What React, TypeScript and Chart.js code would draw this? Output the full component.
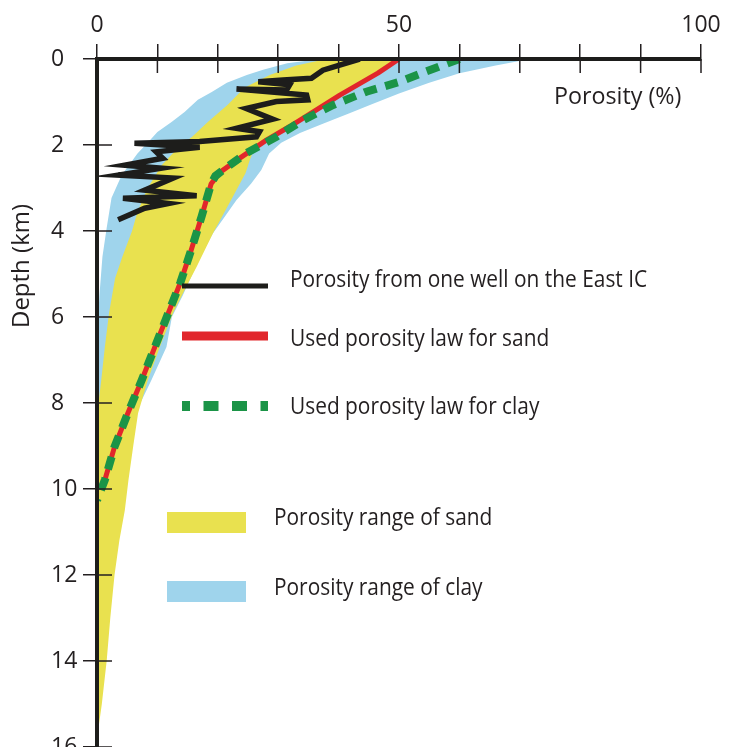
import React, { useEffect, useRef } from 'react';
import { Chart, registerables } from 'chart.js';

Chart.register(...registerables);

// ---------- data (porosity in %, depth in km) ----------
const xTickLabels = ['0', '50', '100'];
const xTitle = 'Porosity (%)';
const yTitle = 'Depth (km)';

// Porosity measured in one well (East IC)
const wellPorosity = [43.5, 37.4, 35.5, 30.8, 26.7, 31.9, 31.4, 23.1, 34.7, 34.9, 29.7, 24.7, 29.1, 23.1, 26.9, 26.4, 17.0, 6.2, 17.0, 9.8, 10.9, 4.6, 10.7, 3.5, 12.6, 7.9, 16.5, 4.3, 11.8, 7.9, 3.5];
const wellDepth = [0.0, 0.26, 0.45, 0.49, 0.53, 0.6, 0.72, 0.7, 0.84, 0.95, 0.99, 1.15, 1.4, 1.61, 1.69, 1.81, 1.92, 1.96, 2.05, 2.16, 2.31, 2.47, 2.54, 2.7, 2.77, 3.05, 3.18, 3.24, 3.36, 3.47, 3.74];

// Used porosity law for sand
const sandLawPorosity = [50, 46.5, 40.2, 35.8, 31.9, 28.1, 23.7, 20.4, 18.9, 17.3, 15.6, 13.8, 11.8, 9.6, 7.4, 5.1, 2.9, 1.3, 0.4];
const sandLawDepth = [0, 0.33, 0.84, 1.23, 1.57, 1.88, 2.3, 2.63, 2.9, 3.67, 4.44, 5.2, 5.91, 6.69, 7.47, 8.24, 9.02, 9.79, 10.0];

// Used porosity law for clay
const clayLawPorosity = [60, 54.5, 50.1, 44.6, 39.1, 34.0, 29.7, 24.7, 20.9, 19.6, 18.9, 17.3, 15.6, 13.8, 11.8, 9.6, 7.4, 5.1, 2.9, 1.3, 0];
const clayLawDepth = [0, 0.29, 0.53, 0.76, 1.07, 1.43, 1.81, 2.19, 2.58, 2.72, 2.9, 3.67, 4.44, 5.2, 5.91, 6.69, 7.47, 8.24, 9.02, 9.79, 10.26];

// Porosity range of sand (left and right boundaries, top to bottom)
const sandMinPorosity = [38, 33, 28.6, 24.4, 21.6, 18.3, 15.8, 13.4, 10.7, 8.4, 6.7, 5.8, 4.2, 3.0, 2.0, 1.3, 0.7, 0, 0];
const sandMinDepth = [0, 0.15, 0.37, 0.67, 1.07, 1.47, 1.8, 2.07, 2.47, 3.0, 3.56, 4.0, 4.6, 5.1, 5.9, 6.7, 7.47, 8.3, 15.8];
const sandMaxPorosity = [50, 46.5, 40.2, 35.8, 31.9, 28.1, 26.0, 25.3, 24.6, 22.2, 19.2, 16.5, 14.5, 12.6, 10.4, 8.4, 6.8, 6.0, 5.2, 4.6, 3.7, 2.9, 2.2, 1.6, 0.8, 0];
const sandMaxDepth = [0, 0.33, 0.84, 1.23, 1.57, 1.88, 2.1, 2.35, 2.65, 3.28, 4.05, 4.83, 5.37, 5.9, 6.7, 7.47, 8.24, 9.0, 9.8, 10.5, 11.2, 12.0, 13.0, 14.0, 15.0, 15.8];

// Porosity range of clay (left and right boundaries, top to bottom)
const clayMinPorosity = [37, 31.5, 27.5, 24.8, 21.5, 19, 16.7, 14.5, 12.4, 10, 8.5, 6.7, 4.1, 2.4, 1.6, 0.9, 0.4, 0, 0];
const clayMinDepth = [0, 0.1, 0.25, 0.37, 0.55, 0.77, 0.95, 1.23, 1.46, 1.7, 1.93, 2.2, 2.7, 3.23, 3.93, 4.6, 5.5, 6.5, 10.6];
const clayMaxPorosity = [71.7, 66, 60, 55, 50, 45.5, 41.8, 37.5, 33.6, 30.5, 28.5, 27.2, 25.5, 23.1, 21, 19.2, 17.5, 15.8, 14.2, 12.4, 11.5, 9, 6.5, 4, 2, 0];
const clayMaxDepth = [0, 0.15, 0.33, 0.55, 0.8, 1.05, 1.26, 1.5, 1.72, 1.95, 2.2, 2.58, 2.9, 3.28, 3.7, 4.05, 4.5, 5.0, 5.5, 6.0, 6.7, 7.47, 8.2, 9.0, 9.8, 10.6];

const legendLabels = [
  'Porosity from one well on the East IC',
  'Used porosity law for sand',
  'Used porosity law for clay',
  'Porosity range of sand',
  'Porosity range of clay',
];

// ---------- styles ----------
const INK = '#231f20';
const BLACK = '#1d1d1b';
const RED = '#e1262b';
const GREEN = '#1b9447';
const YELLOW = '#e9e14f';
const BLUE = '#9fd4ec';
const FONT = "'Open Sans', 'Noto Sans', sans-serif";

const pts = (xs: number[], ys: number[]) => xs.map((x, i) => ({ x, y: ys[i] }));
const polygon = (lx: number[], ly: number[], rx: number[], ry: number[]) => [
  ...pts(lx, ly),
  ...pts(rx, ry).reverse(),
];

const overlayPlugin = {
  id: 'overlay',
  afterDraw(chart: any) {
    const { ctx, chartArea, scales } = chart;
    const xs = scales.x;
    const ys = scales.y;
    ctx.save();
    // inner halves of the crossing tick marks
    ctx.strokeStyle = INK;
    ctx.lineWidth = 1.5;
    ctx.setLineDash([]);
    for (const t of xs.ticks) {
      if (t.value === 0) continue;
      const p = xs.getPixelForValue(t.value);
      ctx.beginPath();
      ctx.moveTo(p, chartArea.top);
      ctx.lineTo(p, chartArea.top + 14);
      ctx.stroke();
    }
    for (const t of ys.ticks) {
      if (t.value === 0) continue;
      const p = ys.getPixelForValue(t.value);
      ctx.beginPath();
      ctx.moveTo(chartArea.left, p);
      ctx.lineTo(chartArea.left + 15, p);
      ctx.stroke();
    }

    const squeezeText = (text: string, x: number, y: number, k: number) => {
      const w = ctx.measureText(text).width;
      ctx.fillText(text, x, y, w * k);
    };

    // axis titles
    ctx.fillStyle = INK;
    ctx.font = `24px ${FONT}`;
    ctx.textBaseline = 'alphabetic';
    ctx.textAlign = 'left';
    squeezeText(xTitle, 554, 104, 0.97);
    ctx.save();
    ctx.translate(29, 266);
    ctx.rotate(-Math.PI / 2);
    ctx.textAlign = 'center';
    ctx.fillText(yTitle, 0, 0);
    ctx.restore();

    // legend symbols
    const seg = (y: number, color: string, width: number, dash: number[], offset: number) => {
      ctx.beginPath();
      ctx.setLineDash(dash);
      ctx.lineDashOffset = offset;
      ctx.strokeStyle = color;
      ctx.lineWidth = width;
      ctx.lineCap = 'butt';
      ctx.moveTo(182, y);
      ctx.lineTo(268, y);
      ctx.stroke();
    };
    seg(286, BLACK, 5, [], 0);
    seg(336, RED, 9, [], 0);
    seg(406, GREEN, 10, [15, 13.5], 7);
    ctx.setLineDash([]);
    ctx.fillStyle = YELLOW;
    ctx.fillRect(167, 512, 79, 21);
    ctx.fillStyle = BLUE;
    ctx.fillRect(167, 581, 79, 21);

    // legend texts
    ctx.fillStyle = INK;
    ctx.font = `24px ${FONT}`;
    ctx.textAlign = 'left';
    const k = 0.87;
    squeezeText(legendLabels[0], 290, 287, k);
    squeezeText(legendLabels[1], 290, 346, k);
    squeezeText(legendLabels[2], 290, 414, k);
    squeezeText(legendLabels[3], 274, 525, k);
    squeezeText(legendLabels[4], 274, 595, k);
    ctx.restore();
  },
};

export default function App() {
  const ref = useRef<HTMLCanvasElement>(null);

  useEffect(() => {
    const canvas = ref.current;
    if (!canvas) return;
    const tickFont = { family: FONT, size: 23 };
    const chart = new Chart(canvas, {
      type: 'scatter',
      data: {
        datasets: [
          {
            label: legendLabels[0],
            data: pts(wellPorosity, wellDepth),
            showLine: true,
            borderColor: BLACK,
            borderWidth: 5.5,
            borderJoinStyle: 'miter',
            pointRadius: 0,
            fill: false,
          },
          {
            label: legendLabels[2],
            data: pts(clayLawPorosity, clayLawDepth),
            showLine: true,
            borderColor: GREEN,
            borderWidth: 8,
            borderDash: [13, 9],
            borderCapStyle: 'butt',
            pointRadius: 0,
            fill: false,
          },
          {
            label: legendLabels[1],
            data: pts(sandLawPorosity, sandLawDepth),
            showLine: true,
            borderColor: RED,
            borderWidth: 5,
            borderJoinStyle: 'round',
            pointRadius: 0,
            fill: false,
          },
          {
            label: legendLabels[3],
            data: polygon(sandMinPorosity, sandMinDepth, sandMaxPorosity, sandMaxDepth),
            showLine: true,
            borderWidth: 0,
            borderColor: 'rgba(0,0,0,0)',
            backgroundColor: YELLOW,
            pointRadius: 0,
            fill: 'shape',
          },
          {
            label: legendLabels[4],
            data: polygon(clayMinPorosity, clayMinDepth, clayMaxPorosity, clayMaxDepth),
            showLine: true,
            borderWidth: 0,
            borderColor: 'rgba(0,0,0,0)',
            backgroundColor: BLUE,
            pointRadius: 0,
            fill: 'shape',
          },
        ],
      },
      options: {
        animation: false,
        responsive: false,
        devicePixelRatio: 1,
        layout: { padding: { left: 51, top: 0, right: 33, bottom: 0 } },
        plugins: {
          legend: { display: false },
          tooltip: { enabled: false },
        },
        scales: {
          x: {
            type: 'linear',
            position: 'top',
            min: 0,
            max: 100,
            border: { display: true, color: BLACK, width: 4, z: 1 },
            grid: {
              display: true,
              drawOnChartArea: false,
              drawTicks: true,
              tickLength: 15,
              tickColor: INK,
              tickWidth: 1.5,
              lineWidth: 1.5,
            },
            ticks: {
              stepSize: 10,
              autoSkip: false,
              maxRotation: 0,
              padding: 5,
              color: INK,
              font: tickFont,
              callback: (v: any) => {
                const s = String(v);
                return xTickLabels.includes(s) ? s : '';
              },
            },
            afterFit: (s: any) => {
              s.height = 59;
              s.paddingLeft = 0;
              s.paddingRight = 0;
            },
          },
          y: {
            type: 'linear',
            position: 'left',
            min: 0,
            max: 16,
            reverse: true,
            border: { display: true, color: BLACK, width: 4, z: 1 },
            grid: {
              display: true,
              drawOnChartArea: false,
              drawTicks: true,
              tickLength: 14,
              tickColor: INK,
              tickWidth: 1.5,
              lineWidth: 1.5,
            },
            ticks: {
              stepSize: 2,
              autoSkip: false,
              crossAlign: 'far',
              color: INK,
              font: tickFont,
            },
            afterFit: (s: any) => {
              s.width = 46;
              s.paddingTop = 0;
              s.paddingBottom = 0;
            },
          },
        },
      },
      plugins: [overlayPlugin],
    } as any);
    return () => chart.destroy();
  }, []);

  return (
    <div style={{ position: 'fixed', left: 0, top: 0, width: 734, height: 747, background: '#ffffff' }}>
      <canvas ref={ref} width={734} height={747} style={{ display: 'block' }} />
    </div>
  );
}
